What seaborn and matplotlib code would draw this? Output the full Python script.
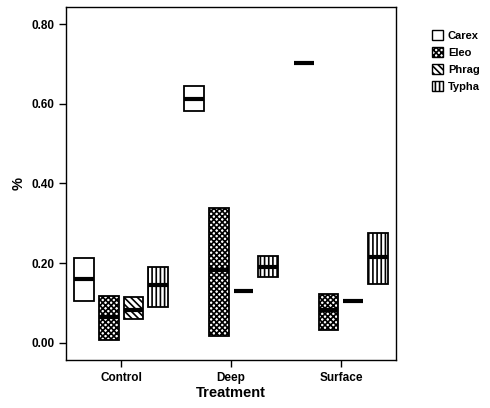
import matplotlib.pyplot as plt
import seaborn as sns
import pandas as pd
from matplotlib.patches import Patch

# dữ liệu: khoảng hộp (thấp / trung vị / cao) theo Treatment
treatments = ['Control', 'Deep', 'Surface']
species = ['Carex', 'Eleo', 'Phrag', 'Typha']

carex_lo = [0.105, 0.583, 0.702]
carex_med = [0.159, 0.612, 0.702]
carex_hi = [0.212, 0.645, 0.702]

eleo_lo = [0.006, 0.017, 0.033]
eleo_med = [0.064, 0.182, 0.081]
eleo_hi = [0.117, 0.339, 0.123]

phrag_lo = [0.059, 0.130, 0.106]
phrag_med = [0.082, 0.130, 0.106]
phrag_hi = [0.116, 0.130, 0.106]

typha_lo = [0.090, 0.166, 0.148]
typha_med = [0.144, 0.191, 0.215]
typha_hi = [0.190, 0.217, 0.275]

hatches = ['', 'xxxxxx', '\\\\\\\\\\', '||||']

# bảng dạng dài: [lo, lo, med, hi, hi] -> Q1 = lo, Q3 = hi, không có râu
series = {
    'Carex': (carex_lo, carex_med, carex_hi),
    'Eleo': (eleo_lo, eleo_med, eleo_hi),
    'Phrag': (phrag_lo, phrag_med, phrag_hi),
    'Typha': (typha_lo, typha_med, typha_hi),
}
rows = []
for sp in species:
    lo, med, hi = series[sp]
    for i, t in enumerate(treatments):
        for v in [lo[i], lo[i], med[i], hi[i], hi[i]]:
            rows.append({'Treatment': t, 'Species': sp, 'pct': v})
df = pd.DataFrame(rows)

sns.set_style("white")
plt.rcParams['font.family'] = ['Liberation Sans', 'DejaVu Sans']
plt.rcParams['font.weight'] = 'bold'
plt.rcParams['hatch.linewidth'] = 1.2
for k in ['text.color', 'axes.labelcolor', 'xtick.color', 'ytick.color']:
    plt.rcParams[k] = 'black'

fig = plt.figure(figsize=(4.9, 4.08), dpi=100)
ax = fig.add_axes([0.135, 0.118, 0.673, 0.865])

sns.boxplot(data=df, x='Treatment', y='pct', hue='Species', order=treatments,
            hue_order=species, palette={s: 'white' for s in species},
            linecolor='black', linewidth=1.3, width=0.9, gap=0.2,
            showcaps=False, showfliers=False, whis=(0, 100),
            medianprops=dict(linewidth=3, color='black'), ax=ax, legend=False)

for cont, h in zip(ax.containers, hatches):
    for box in cont.boxes:
        box.set_hatch(h)

ax.set_xlim(-0.5, 2.5)
ax.set_ylim(-0.043, 0.843)
ax.set_yticks([0, 0.2, 0.4, 0.6, 0.8])
ax.set_yticklabels(['0.00', '0.20', '0.40', '0.60', '0.80'])
ax.tick_params(axis='both', direction='out', length=5, width=1, labelsize=8.5, left=True, bottom=True)
for lab in ax.get_xticklabels() + ax.get_yticklabels():
    lab.set_fontweight('bold')
for sp in ax.spines.values():
    sp.set_color('black')
    sp.set_linewidth(1)

ax.set_xlabel('Treatment', fontsize=10.5, fontweight='bold', labelpad=2)
ax.set_ylabel('%', fontsize=10.5, fontweight='bold')

handles = [Patch(facecolor='white', edgecolor='black', hatch=h, label=s)
           for s, h in zip(species, hatches)]
fig.legend(handles=handles, loc='upper left', bbox_to_anchor=(0.862, 0.95),
           frameon=False, handlelength=1.0, handleheight=1.0,
           handletextpad=0.4, labelspacing=0.55, prop={'weight': 'bold', 'size': 8})

fig.savefig('out.png', dpi=100)
